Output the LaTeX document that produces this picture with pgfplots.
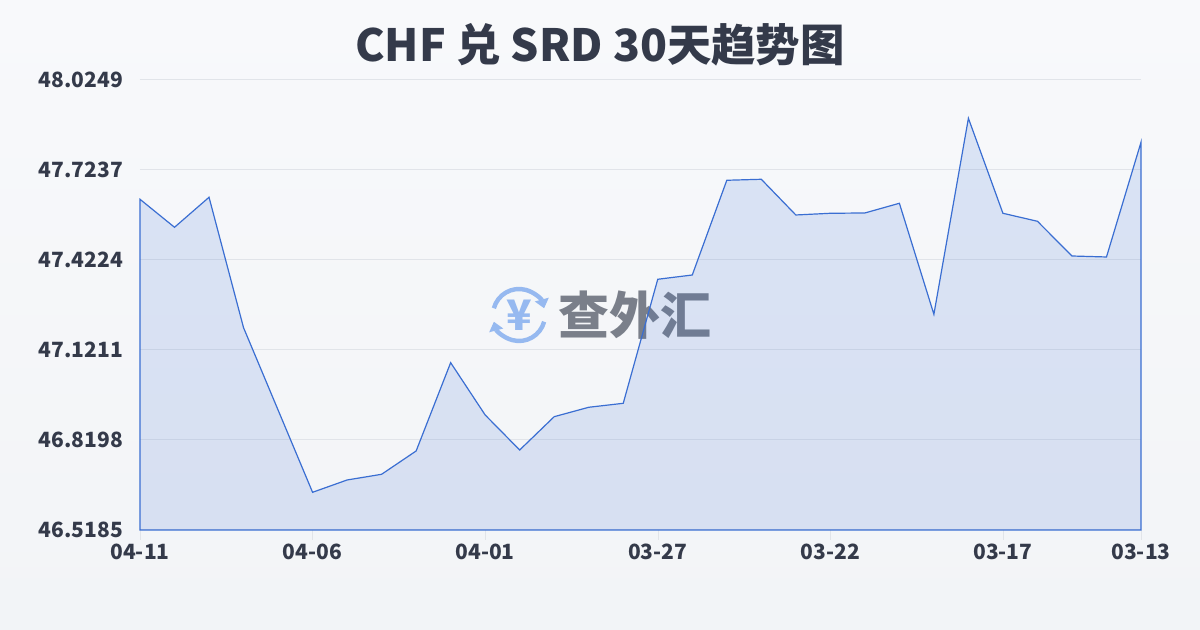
\documentclass[border=0pt]{standalone}
\usepackage{pgfplots}
\pgfplotsset{compat=1.18}
\usepackage{fontspec}
\setmainfont{Noto Sans CJK SC}
\newfontfamily\cjk{Noto Sans CJK SC}
\usetikzlibrary{arrows.meta}
\pgfdeclarelayer{background}
\pgfsetlayers{background,main}
\definecolor{linec}{RGB}{58,110,210}
\definecolor{txt}{RGB}{52,58,74}
\definecolor{gridc}{RGB}{225,228,233}
\definecolor{wm}{RGB}{122,127,138}
\definecolor{iconc}{RGB}{150,185,240}
\definecolor{bgtop}{RGB}{248,249,251}
\definecolor{bgbot}{RGB}{242,244,247}
\begin{document}
\begin{tikzpicture}[x=1pt,y=1pt]
\begin{axis}[
  scale only axis, width=500.5pt, height=225pt,
  xmin=0, xmax=29, ymin=46.5185, ymax=48.0249,
  axis line style={draw=none},
  xtick pos=bottom, ytick pos=left,
  xtick={0,5,10,15,20,25,29},
  xticklabels={04-11,04-06,04-01,03-27,03-22,03-17,03-13},
  ytick={46.5185,46.8198,47.1211,47.4224,47.7237,48.0249},
  yticklabels={46.5185,46.8198,47.1211,47.4224,47.7237,48.0249},
  tick align=outside,
  major tick length=5pt,
  xtick style={draw=gridc},
  ytick style={draw=none},
  ymajorgrids, grid style={draw=gridc, line width=0.5pt},
  ticklabel style={font=\bfseries\fontsize{10.5}{12}\selectfont, text=txt},
  yticklabel style={xshift=0pt},
  xticklabel style={yshift=1.5pt},
  clip=false,
]
\coordinate (sw) at (rel axis cs:0,0);
\addplot[draw=linec, line width=0.6pt, fill=linec, fill opacity=0.15] coordinates {
(0,47.6256) (1,47.5318) (2,47.6323) (3,47.1957) (4,46.9202) (5,46.6447)
(6,46.6859) (7,46.7050) (8,46.7830) (9,47.0786) (10,46.9035) (11,46.7863)
(12,46.8978) (13,46.9293) (14,46.9426) (15,47.3578) (16,47.3721) (17,47.6892)
(18,47.6925) (19,47.5730) (20,47.5787) (21,47.5797) (22,47.6122) (23,47.2406)
(24,47.8967) (25,47.5787) (26,47.5519) (27,47.4357) (28,47.4324) (29,47.8164)
} \closedcycle;
\end{axis}
\begin{pgfonlayer}{background}
\begin{scope}[shift={(sw)}, xshift=-70pt, yshift=-50pt]
\shade[top color=bgtop, bottom color=bgbot] (0,0) rectangle (600,315);
\begin{scope}[shift={(259.5,157.5)}]
\draw[iconc, line width=2.2pt, -{Triangle[length=4.5pt,width=7pt]}] (165:13pt) arc (165:15:13pt);
\draw[iconc, line width=2.2pt, -{Triangle[length=4.5pt,width=7pt]}] (-15:13pt) arc (-15:-165:13pt);
\node[font=\bfseries\fontsize{21}{21}\selectfont, text=iconc] at (0,0) {¥};
\end{scope}
\node[font=\cjk\bfseries\fontsize{25.5}{26}\selectfont, text=wm] at (317.5,157.5) {查外汇};
\end{scope}
\end{pgfonlayer}
\begin{scope}[shift={(sw)}, xshift=-70pt, yshift=-50pt]
\node[font=\cjk\bfseries\fontsize{22.2}{26}\selectfont, text=txt] at (300,292.5) {CHF 兑 SRD 30天趋势图};
\useasboundingbox (0,0) rectangle (600,315);
\end{scope}
\end{tikzpicture}
\end{document}
